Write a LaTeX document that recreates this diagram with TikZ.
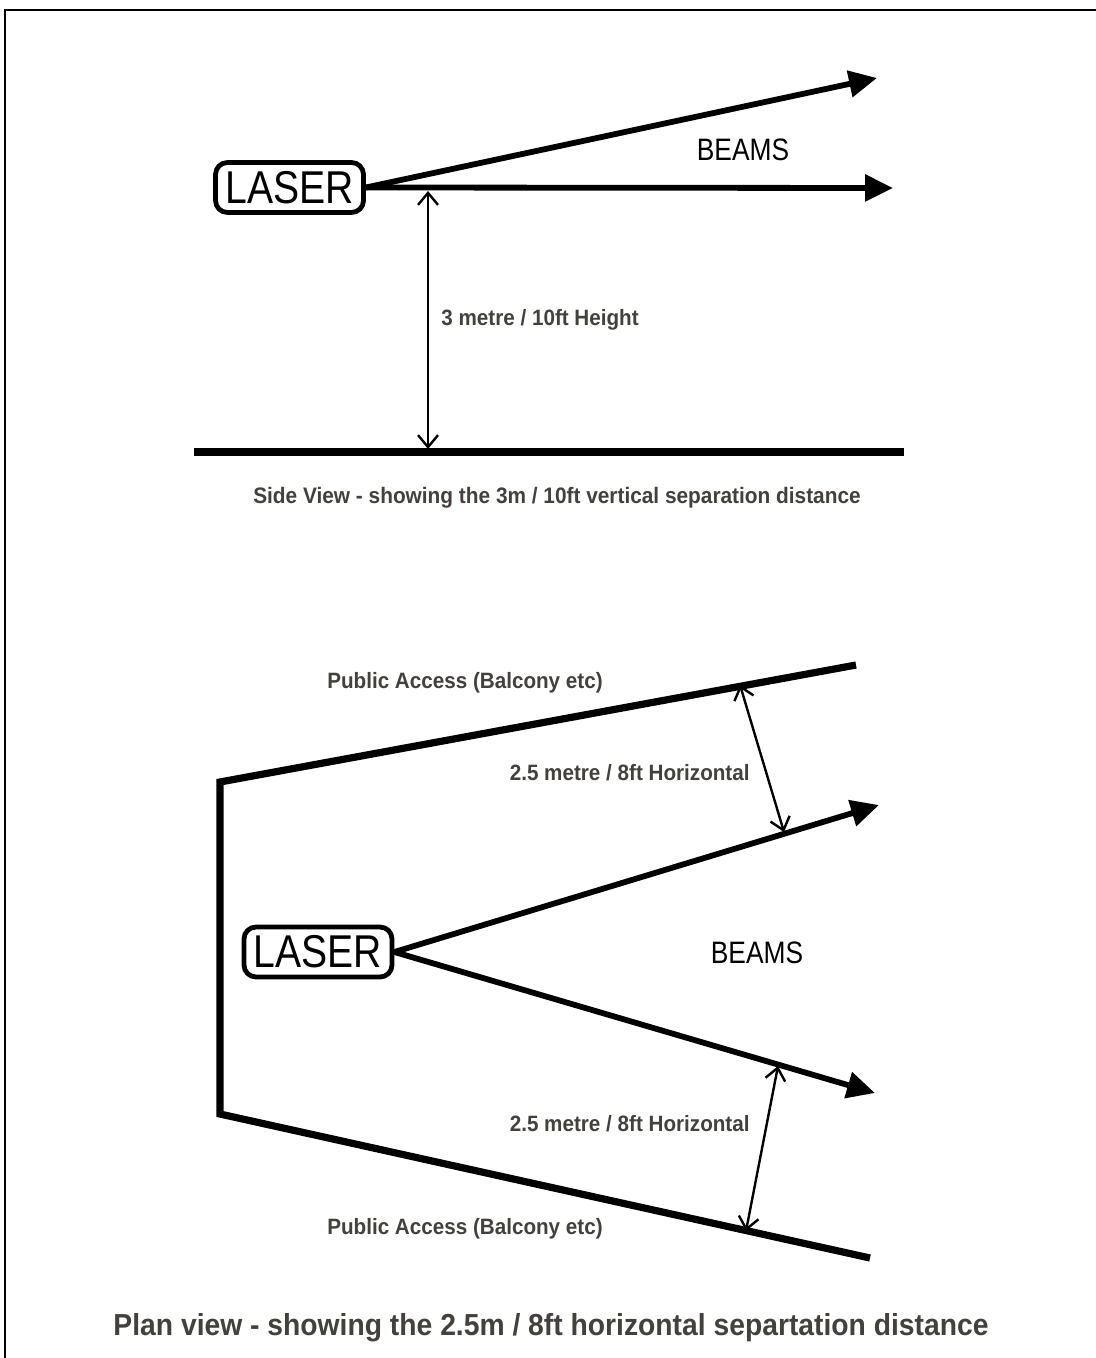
\documentclass[tikz,border=0pt]{standalone}
\usepackage{fontspec}
\setmainfont{Liberation Sans}
\newfontfamily\condfont[FakeStretch=0.85]{Liberation Sans}
\newfontfamily\labelfont[FakeStretch=0.93]{Liberation Sans}
\usetikzlibrary{positioning,arrows.meta}
\definecolor{labelgray}{RGB}{68,64,60}
\tikzset{
  laserbox/.style={draw, line width=2.4pt, rounded corners=6pt, inner sep=0pt,
    minimum width=74pt, minimum height=25pt,
    font=\condfont\fontsize{23}{23}\selectfont},
  beamarrow/.style={line width=2.9pt, -{Triangle[length=14pt,width=13pt]}},
  wallline/.style={line width=3.6pt},
  dimarrow/.style={line width=1.2pt,
    {Straight Barb[length=6pt,width=10pt]}-{Straight Barb[length=6pt,width=10pt]}},
  beamlabel/.style={font=\condfont\fontsize{15.5}{16}\selectfont, inner sep=0pt},
  dimlabel/.style={font=\labelfont\bfseries\fontsize{11.1}{12}\selectfont,
    text=labelgray, inner sep=0pt},
  figcaption/.style={font=\labelfont\bfseries\fontsize{11.2}{12}\selectfont,
    text=labelgray, inner sep=0pt},
}

\begin{document}
\begin{tikzpicture}[x=0.5pt, y=-0.5pt]
  \useasboundingbox (0,0) rectangle (1096,1358);
  % Rahmen
  \draw[line width=1pt] (5,1358) -- (5,10) -- (1096,10);
  % Seitenansicht
  \node[laserbox] (sidelaser) at (289.5,187.5) {LASER};
  \coordinate (sidetipa) at (877,78);
  \coordinate (sidetipb) at (893,188);
  \draw[beamarrow] (sidelaser.east) -- (sidetipa);
  \draw[beamarrow] (sidelaser.east) -- (sidetipb);
  \node[beamlabel] (sidebeams) at (743,150) {BEAMS};
  \coordinate (floorl) at (194,452);
  \coordinate (floorr) at (904,452);
  \draw[wallline] (floorl) -- (floorr);
  \coordinate (heighttop) at (428,191);
  \coordinate (heightbot) at (428,449);
  \draw[dimarrow] (heighttop) -- (heightbot);
  \node[dimlabel, anchor=west] (heightlbl) at (441,320) {3 metre / 10ft Height};
  \node[figcaption] (sidecap) at (557,498) {Side View - showing the 3m / 10ft vertical separation distance};
  % Draufsicht
  \coordinate (walltr) at (856,665);
  \coordinate (walltl) at (220,782);
  \coordinate (wallbl) at (220,1114);
  \coordinate (wallbr) at (870,1258);
  \draw[wallline] (walltr) -- (walltl) -- (wallbl) -- (wallbr);
  \node[dimlabel] (pubtop) at (465,683) {Public Access (Balcony etc)};
  \node[dimlabel] (pubbot) at (465,1229) {Public Access (Balcony etc)};
  \node[laserbox] (planlaser) at (318,952) {LASER};
  \coordinate (plantipa) at (879,805);
  \coordinate (plantipb) at (875,1093);
  \draw[beamarrow] (planlaser.east) -- (plantipa);
  \draw[beamarrow] (planlaser.east) -- (plantipb);
  \node[beamlabel] (planbeams) at (757,953) {BEAMS};
  \coordinate (dimaa) at (740,685);
  \coordinate (dimab) at (784,832);
  \draw[dimarrow] (dimaa) -- (dimab);
  \coordinate (dimba) at (778,1066);
  \coordinate (dimbb) at (746,1231);
  \draw[dimarrow] (dimba) -- (dimbb);
  \node[dimlabel, anchor=east] (horiztop) at (750,773) {2.5 metre / 8ft Horizontal};
  \node[dimlabel, anchor=east] (horizbot) at (750,1124) {2.5 metre / 8ft Horizontal};
  \node[figcaption, font=\labelfont\bfseries\fontsize{15.2}{16}\selectfont] (plancap) at (551,1328) {Plan view - showing the 2.5m / 8ft horizontal separtation distance};
\end{tikzpicture}
\end{document}
